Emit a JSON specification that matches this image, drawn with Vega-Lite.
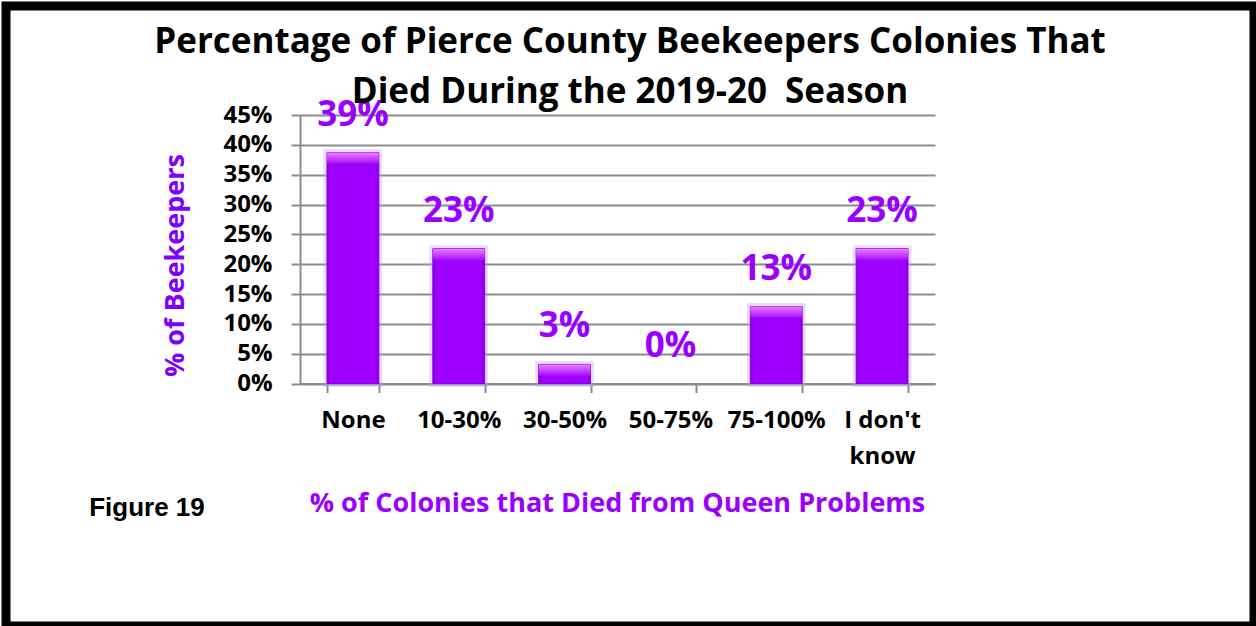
{
  "$schema": "https://vega.github.io/schema/vega-lite/v6.json",
  "width": 1248,
  "height": 620,
  "autosize": {"type": "none"},
  "padding": {"left": 6, "top": 6, "right": 2, "bottom": 0},
  "background": "white",
  "view": {"stroke": "black", "strokeWidth": 9, "fill": "white"},
  "title": {
    "text": ["Percentage of Pierce County Beekeepers Colonies That", "Died During the 2019-20\u00a0 Season"],
    "font": "Open Sans",
    "fontSize": 35,
    "fontWeight": "bold",
    "color": "black",
    "anchor": "middle",
    "frame": "group",
    "baseline": "alphabetic",
    "lineHeight": 50,
    "offset": -132
  },
  "data": {
    "values": [
      {"loss": "None", "share": 0.387},
      {"loss": "10-30%", "share": 0.226},
      {"loss": "30-50%", "share": 0.032},
      {"loss": "50-75%", "share": 0},
      {"loss": "75-100%", "share": 0.129},
      {"loss": "I don't know", "share": 0.226}
    ]
  },
  "encoding": {
    "x": {
      "field": "loss",
      "type": "nominal",
      "sort": null,
      "scale": {
        "domain": ["None", "10-30%", "30-50%", "50-75%", "75-100%", "I don't know"],
        "range": [294, 929],
        "paddingInner": 0.51,
        "paddingOuter": 0.255
      },
      "axis": {
        "orient": "bottom",
        "offset": -242.5,
        "tickBand": "extent",
        "labelAngle": 0,
        "labelOverlap": false,
        "labelBound": false,
        "labelFont": "Open Sans",
        "labelFontSize": 24,
        "labelFontWeight": "bold",
        "labelColor": "black",
        "labelPadding": 16,
        "labelLineHeight": 36,
        "labelExpr": "datum.label === \"I don't know\" ? [\"I don't\", \"know\"] : datum.label",
        "tickSize": 9,
        "tickWidth": 2,
        "tickColor": "#8c8c8c",
        "domainColor": "#8c8c8c",
        "domainWidth": 2,
        "grid": false,
        "title": "% of Colonies that Died from Queen Problems",
        "titleFont": "Open Sans",
        "titleFontSize": 27,
        "titleFontWeight": "bold",
        "titleColor": "#9900FF",
        "titleX": 611,
        "titleY": 119.5,
        "titleAlign": "center",
        "titleBaseline": "middle"
      }
    }
  },
  "layer": [
    {
      "transform": [{"filter": "datum.share > 0"}],
      "mark": {
        "type": "bar",
        "fillOpacity": 0,
        "stroke": "#C79BFF",
        "strokeWidth": 7,
        "strokeOpacity": 0.35
      },
      "encoding": {
        "y": {
          "field": "share",
          "type": "quantitative",
          "scale": {"domain": [0, 0.45], "range": [377.5, 109], "nice": false},
          "axis": {
            "orient": "left",
            "offset": -294,
            "values": [0, 0.05, 0.1, 0.15, 0.2, 0.25, 0.3, 0.35, 0.4, 0.45],
            "format": ".0%",
            "labelFont": "Open Sans",
            "labelFontSize": 24,
            "labelFontWeight": "bold",
            "labelColor": "black",
            "labelPadding": 19,
            "tickSize": 9,
            "tickWidth": 2,
            "tickColor": "#8c8c8c",
            "domainColor": "#8c8c8c",
            "domainWidth": 2,
            "grid": true,
            "gridColor": "#8c8c8c",
            "gridWidth": 2,
            "title": "% of Beekeepers",
            "titleFont": "Open Sans",
            "titleFontSize": 27,
            "titleFontWeight": "bold",
            "titleColor": "#8000FF",
            "titleAngle": 270,
            "titleX": -125,
            "titleY": 259,
            "titleAlign": "center",
            "titleBaseline": "middle"
          }
        }
      }
    },
    {
      "transform": [{"filter": "datum.share > 0"}],
      "mark": {
        "type": "bar",
        "fill": {
          "gradient": "linear",
          "x1": 0, "y1": 0, "x2": 1, "y2": 0,
          "stops": [
            {"offset": 0, "color": "#8000DD"},
            {"offset": 0.07, "color": "#A000FF"},
            {"offset": 0.93, "color": "#A000FF"},
            {"offset": 1, "color": "#8000DD"}
          ]
        },
        "stroke": "#8A00E6",
        "strokeWidth": 1
      },
      "encoding": {
        "y": {"field": "share", "type": "quantitative", "axis": null}
      }
    },
    {
      "transform": [{"filter": "datum.share > 0"}],
      "mark": {
        "type": "bar",
        "y2Offset": 11,
        "fill": {
          "gradient": "linear",
          "x1": 0, "y1": 0, "x2": 0, "y2": 1,
          "stops": [
            {"offset": 0, "color": "#EA80FF"},
            {"offset": 1, "color": "#A812FF"}
          ]
        }
      },
      "encoding": {
        "y": {"field": "share", "type": "quantitative", "axis": null},
        "y2": {"field": "share"}
      }
    },
    {
      "mark": {
        "type": "text",
        "font": "Open Sans",
        "fontSize": 35,
        "fontWeight": "bold",
        "color": "#9900FF",
        "baseline": "alphabetic",
        "dy": -27
      },
      "encoding": {
        "text": {"field": "share", "type": "quantitative", "format": ".0%"},
        "y": {
          "field": "share",
          "type": "quantitative",
          "axis": {
            "orient": "right",
            "labels": false,
            "ticks": false,
            "domain": false,
            "grid": false,
            "title": "Figure 19",
            "titleFont": "Liberation Sans",
            "titleFontSize": 26,
            "titleFontWeight": "bold",
            "titleColor": "black",
            "titleAngle": 0,
            "titleX": -1107.5,
            "titleY": 501,
            "titleAlign": "center",
            "titleBaseline": "middle"
          }
        }
      }
    }
  ],
  "resolve": {"axis": {"y": "independent"}}
}
